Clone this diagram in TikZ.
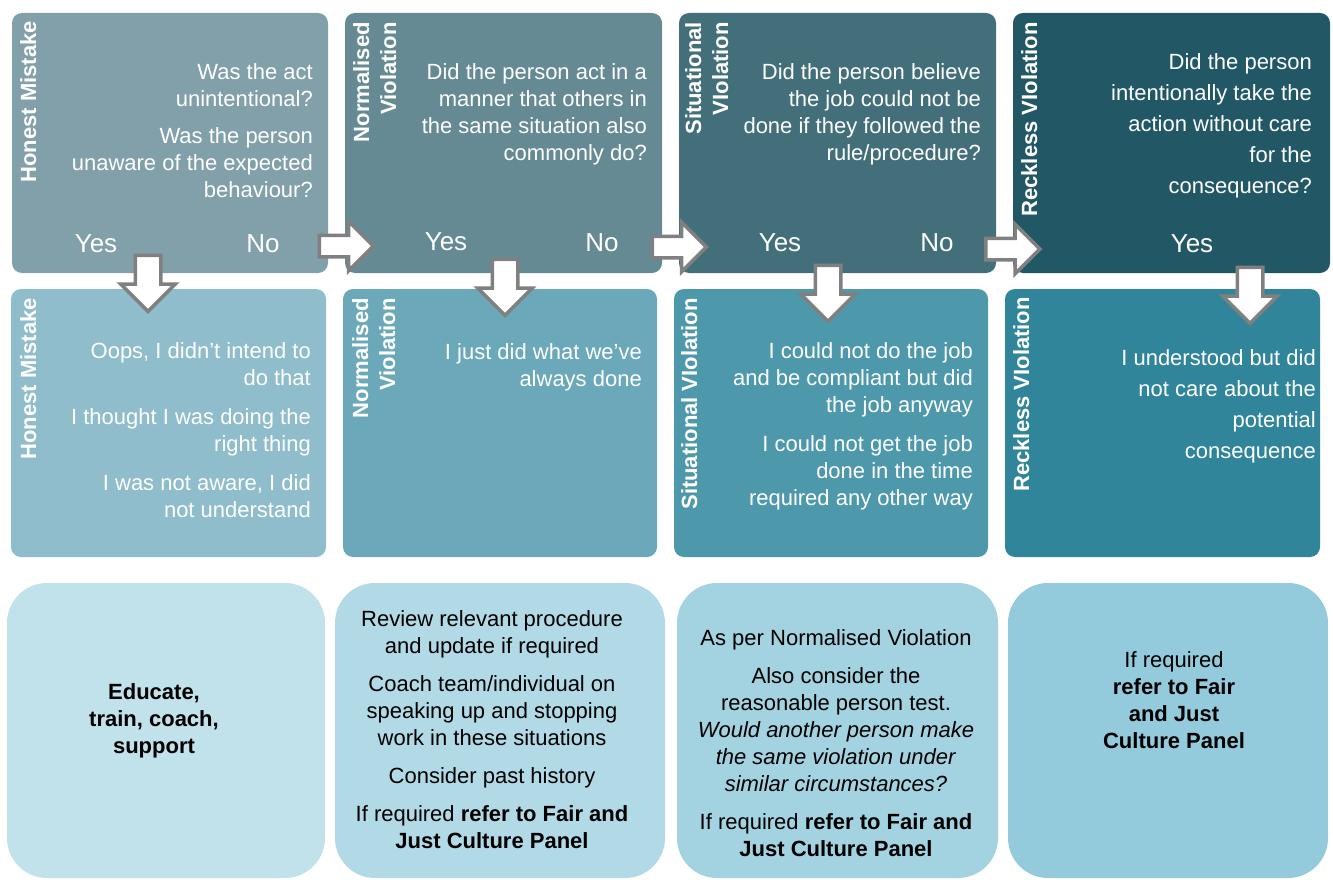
\documentclass[tikz,border=0pt]{standalone}
\usepackage{fontspec}
\setmainfont{Liberation Sans}
\usetikzlibrary{shapes.arrows}
\definecolor{ra}{HTML}{81A0A9}
\definecolor{rb}{HTML}{658A94}
\definecolor{rc}{HTML}{436F7A}
\definecolor{rd}{HTML}{225866}
\definecolor{sa}{HTML}{8FBDCB}
\definecolor{sb}{HTML}{6BA9BA}
\definecolor{sc}{HTML}{4E98AC}
\definecolor{sd}{HTML}{30859B}
\definecolor{ta}{HTML}{C2E2EB}
\definecolor{tb}{HTML}{B2DAE6}
\definecolor{tc}{HTML}{A3D3E1}
\definecolor{td}{HTML}{93CBDC}
\definecolor{agray}{HTML}{808080}
\begin{document}
\begin{tikzpicture}[x=1pt,y=-1pt,
  box/.style={rounded corners=10pt, inner sep=0pt, draw=none},
  bigbox/.style={rounded corners=40pt, inner sep=0pt, draw=none},
  qtext/.style={text=white, align=right, inner sep=0pt, anchor=north east, font=\fontsize{22}{27}\selectfont},
  qtextw/.style={qtext, font=\fontsize{22}{31}\selectfont},
  lbl/.style={text=white, font=\bfseries\fontsize{22}{27}\selectfont, rotate=90, align=right, anchor=north east, inner sep=0pt},
  yn/.style={text=white, font=\fontsize{26}{30}\selectfont, anchor=base, inner sep=0pt},
  act/.style={text=black, align=center, inner sep=0pt, anchor=north, font=\fontsize{22}{27}\selectfont},
  rarr/.style={single arrow, draw=agray, fill=white, line width=3.5pt, inner sep=9pt, minimum height=54pt, single arrow head extend=14pt},
  darr/.style={rarr, rotate=-90, inner sep=11pt, minimum height=56pt, single arrow head extend=14.5pt}
]
\useasboundingbox (0,0) rectangle (1333,880);
% row 1
\node[box, fill=ra, minimum width=316pt, minimum height=260pt] (q1) at (170,143) {};
\node[box, fill=rb, minimum width=317pt, minimum height=260pt] (q2) at (503.5,143) {};
\node[box, fill=rc, minimum width=317pt, minimum height=260pt] (q3) at (837.5,143) {};
\node[box, fill=rd, minimum width=317pt, minimum height=260pt] (q4) at (1171.5,143) {};
% row 2
\node[box, fill=sa, minimum width=315pt, minimum height=268pt] (s1) at (168.5,423) {};
\node[box, fill=sb, minimum width=314pt, minimum height=268pt] (s2) at (500,423) {};
\node[box, fill=sc, minimum width=314pt, minimum height=268pt] (s3) at (831,423) {};
\node[box, fill=sd, minimum width=315pt, minimum height=268pt] (s4) at (1162.5,423) {};
% row 3
\node[bigbox, fill=ta, minimum width=318pt, minimum height=295pt] (a1) at (166,730.5) {};
\node[bigbox, fill=tb, minimum width=330pt, minimum height=295pt] (a2) at (500,730.5) {};
\node[bigbox, fill=tc, minimum width=321pt, minimum height=295pt] (a3) at (837.5,730.5) {};
\node[bigbox, fill=td, minimum width=320pt, minimum height=295pt] (a4) at (1168,730.5) {};
% arrows
\node[rarr] (r1) at (341,246) {};
\node[rarr] (r2) at (674,247) {};
\node[rarr] (r3) at (1007.5,249) {};
\node[darr] (d1) at (148,277) {};
\node[darr] (d2) at (505,281) {};
\node[darr] (d3) at (828,287) {};
\node[darr] (d4) at (1250,289) {};
% row 1 labels
\node[lbl] (l1) at (20,21) {Honest Mistake};
\node[lbl] (l2) at (353,22) {Normalised\\Violation};
\node[lbl] (l3) at (685,22) {Situational\\VIolation};
\node[lbl] (l4) at (1021,22) {Reckless VIolation};
% row 1 questions
\node[qtext] (t1) at (313,63) {Was the act\\unintentional?\\[10pt]Was the person\\unaware of the expected\\behaviour?};
\node[qtext] (t2) at (647,63) {Did the person act in a\\manner that others in\\the same situation also\\commonly do?};
\node[qtext] (t3) at (981,63) {Did the person believe\\the job could not be\\done if they followed the\\rule/procedure?};
\node[qtextw] (t4) at (1312,53) {Did the person\\intentionally take the\\action without care\\for the\\consequence?};
% yes / no
\node[yn] (y1) at (96,252) {Yes};
\node[yn] (n1) at (263,252) {No};
\node[yn] (y2) at (446,250) {Yes};
\node[yn] (n2) at (602,251) {No};
\node[yn] (y3) at (780,251) {Yes};
\node[yn] (n3) at (937,251) {No};
\node[yn] (y4) at (1192,252) {Yes};
% row 2 labels
\node[lbl] (m1) at (20,298) {Honest Mistake};
\node[lbl] (m2) at (352,298) {Normalised\\Violation};
\node[lbl] (m3) at (681,298) {Situational VIolation};
\node[lbl] (m4) at (1013,297) {Reckless VIolation};
% row 2 statements
\node[qtext] (u1) at (311,342) {Oops, I didn’t intend to\\do that\\[12pt]I thought I was doing the\\right thing\\[12pt]I was not aware, I did\\not understand};
\node[qtext] (u2) at (642,343) {I just did what we’ve\\always done};
\node[qtext] (u3) at (973,342) {I could not do the job\\and be compliant but did\\the job anyway\\[12pt]I could not get the job\\done in the time\\required any other way};
\node[qtextw] (u4) at (1316,349) {I understood but did\\not care about the\\potential\\consequence};
% row 3 actions
\node[act, font=\bfseries\fontsize{22}{27}\selectfont] (v1) at (154,683) {Educate,\\train, coach,\\support};
\node[act] (v2) at (492,610) {Review relevant procedure\\and update if required\\[11pt]Coach team/individual on\\speaking up and stopping\\work in these situations\\[11pt]Consider past history\\[11pt]If required \textbf{refer to Fair and}\\\textbf{Just Culture Panel}};
\node[act] (v3) at (836,629) {As per Normalised Violation\\[11pt]Also consider the\\reasonable person test.\\\textit{Would another person make}\\\textit{the same violation under}\\\textit{similar circumstances?}\\[11pt]If required \textbf{refer to Fair and}\\\textbf{Just Culture Panel}};
\node[act] (v4) at (1174,651) {If required\\\textbf{refer to Fair}\\\textbf{and Just}\\\textbf{Culture Panel}};
\end{tikzpicture}
\end{document}
